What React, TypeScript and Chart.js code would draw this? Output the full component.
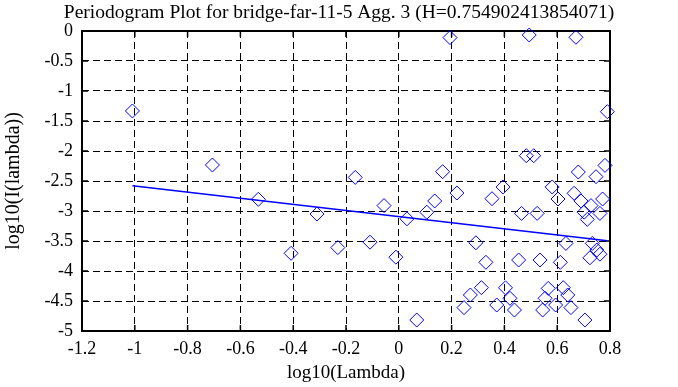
import React, { useEffect, useRef } from 'react';
import { Chart, registerables } from 'chart.js';

Chart.register(...registerables);

const TITLE = 'Periodogram Plot for bridge-far-11-5 Agg. 3 (H=0.754902413854071)';
const X_LABEL = 'log10(Lambda)';
const Y_LABEL = 'log10(I(lambda))';

const pointX = [
  -1.009, -0.706, -0.532, -0.408, -0.31, -0.231, -0.165, -0.109, -0.056, -0.011,
  0.031, 0.068, 0.106, 0.136, 0.166, 0.194, 0.22, 0.247, 0.271, 0.292,
  0.313, 0.33, 0.353, 0.371, 0.395, 0.404, 0.421, 0.438, 0.454, 0.465,
  0.483, 0.494, 0.511, 0.524, 0.535, 0.545, 0.554, 0.566, 0.581, 0.594,
  0.603, 0.612, 0.623, 0.633, 0.64, 0.652, 0.664, 0.671, 0.68, 0.69,
  0.702, 0.705, 0.714, 0.724, 0.728, 0.733, 0.747, 0.75, 0.762, 0.762,
  0.772, 0.781, 0.79,
];
const pointY = [
  -1.333, -2.233, -2.805, -3.705, -3.05, -3.61, -2.44, -3.52, -2.91, -3.77,
  -3.13, -4.817, -3.02, -2.833, -2.345, -0.11, -2.7, -4.61, -4.4, -3.53,
  -4.278, -3.855, -2.795, -4.567, -2.6, -4.28, -4.455, -4.65, -3.817, -3.04,
  -2.078, -0.067, -2.078, -3.04, -3.817, -4.65, -4.455, -4.29, -2.6, -4.567,
  -2.8, -3.855, -4.278, -3.54, -4.4, -4.61, -2.705, -0.105, -2.35, -2.833,
  -3.02, -4.817, -3.14, -3.78, -2.91, -3.54, -2.428, -3.65, -3.04, -3.72,
  -2.8, -2.24, -1.345,
];

const fitX = [-1.009, 0.79];
const fitY = [-2.578, -3.495];

const X_MIN = -1.2;
const X_MAX = 0.8;
const X_STEP = 0.2;
const Y_MIN = -5;
const Y_MAX = 0;
const Y_STEP = 0.5;

const FONT = 'Liberation Serif';

const framePlugin = {
  id: 'gnuFrame',
  beforeDatasetsDraw(chart: any) {
    const { ctx, chartArea: a, scales } = chart;
    const len = 6;
    ctx.save();
    ctx.strokeStyle = '#000';
    ctx.lineWidth = 1.5;
    ctx.beginPath();
    scales.x.ticks.forEach((t: any) => {
      const px = scales.x.getPixelForValue(t.value);
      ctx.moveTo(px, a.bottom);
      ctx.lineTo(px, a.bottom - len);
      ctx.moveTo(px, a.top);
      ctx.lineTo(px, a.top + len);
    });
    scales.y.ticks.forEach((t: any) => {
      const py = scales.y.getPixelForValue(t.value);
      ctx.moveTo(a.left, py);
      ctx.lineTo(a.left + len, py);
      ctx.moveTo(a.right, py);
      ctx.lineTo(a.right - len, py);
    });
    ctx.stroke();
    ctx.lineWidth = 2;
    ctx.strokeRect(a.left, a.top, a.right - a.left, a.bottom - a.top);
    ctx.restore();
  },
};

const fmt = (v: any) => String(Math.round(Number(v) * 10) / 10);

export default function App() {
  const ref = useRef<HTMLCanvasElement | null>(null);
  useEffect(() => {
    if (!ref.current) return;
    const chart = new Chart(ref.current, {
      type: 'scatter',
      data: {
        datasets: [
          {
            type: 'scatter',
            data: pointX.map((x, i) => ({ x, y: pointY[i] })),
            pointStyle: 'rectRot',
            pointRadius: 7,
            pointHoverRadius: 7,
            borderColor: 'rgb(0,0,255)',
            backgroundColor: 'rgba(0,0,0,0)',
            borderWidth: 1,
            clip: false,
          } as any,
          {
            type: 'line',
            data: fitX.map((x, i) => ({ x, y: fitY[i] })),
            borderColor: 'rgb(0,0,255)',
            borderWidth: 1.5,
            pointRadius: 0,
            fill: false,
            showLine: true,
          } as any,
        ],
      },
      options: {
        animation: false,
        responsive: false,
        layout: { padding: 0 },
        plugins: {
          legend: { display: false },
          tooltip: { enabled: false },
          title: {
            display: true,
            text: TITLE,
            color: '#000',
            font: { family: FONT, size: 19.5, weight: 'normal' },
            padding: { top: 1, bottom: 6.6 },
          },
        },
        scales: {
          x: {
            type: 'linear',
            min: X_MIN,
            max: X_MAX,
            afterFit: (s: any) => { s.height = 56; },
            ticks: {
              stepSize: X_STEP,
              autoSkip: false,
              maxRotation: 0,
              padding: 7,
              color: '#000',
              font: { family: FONT, size: 18 },
              callback: fmt,
            },
            grid: { color: '#000', lineWidth: 1, drawTicks: false },
            border: { display: false, dash: [7, 4] },
            title: {
              display: true,
              text: X_LABEL,
              color: '#000',
              font: { family: FONT, size: 19 },
              padding: { top: 0, bottom: 3 },
            },
          },
          y: {
            type: 'linear',
            min: Y_MIN,
            max: Y_MAX,
            afterFit: (s: any) => { s.width = 82; },
            ticks: {
              stepSize: Y_STEP,
              autoSkip: false,
              padding: 9,
              color: '#000',
              font: { family: FONT, size: 18 },
              callback: fmt,
            },
            grid: { color: '#000', lineWidth: 1, drawTicks: false },
            border: { display: false, dash: [7, 4] },
            title: {
              display: true,
              text: Y_LABEL,
              color: '#000',
              font: { family: FONT, size: 20 },
              padding: { top: 1.5, bottom: 0 },
            },
          },
          yRight: {
            type: 'linear',
            position: 'right',
            min: Y_MIN,
            max: Y_MAX,
            afterFit: (s: any) => { s.width = 68; },
            ticks: { display: false },
            grid: { display: false, drawTicks: false },
            border: { display: false },
          },
        },
      } as any,
      plugins: [framePlugin],
    });
    return () => chart.destroy();
  }, []);
  return (
    <div style={{ position: 'fixed', left: 0, top: 0, width: 678, height: 387, background: '#fff' }}>
      <canvas ref={ref} width={678} height={387} style={{ display: 'block' }} />
    </div>
  );
}
